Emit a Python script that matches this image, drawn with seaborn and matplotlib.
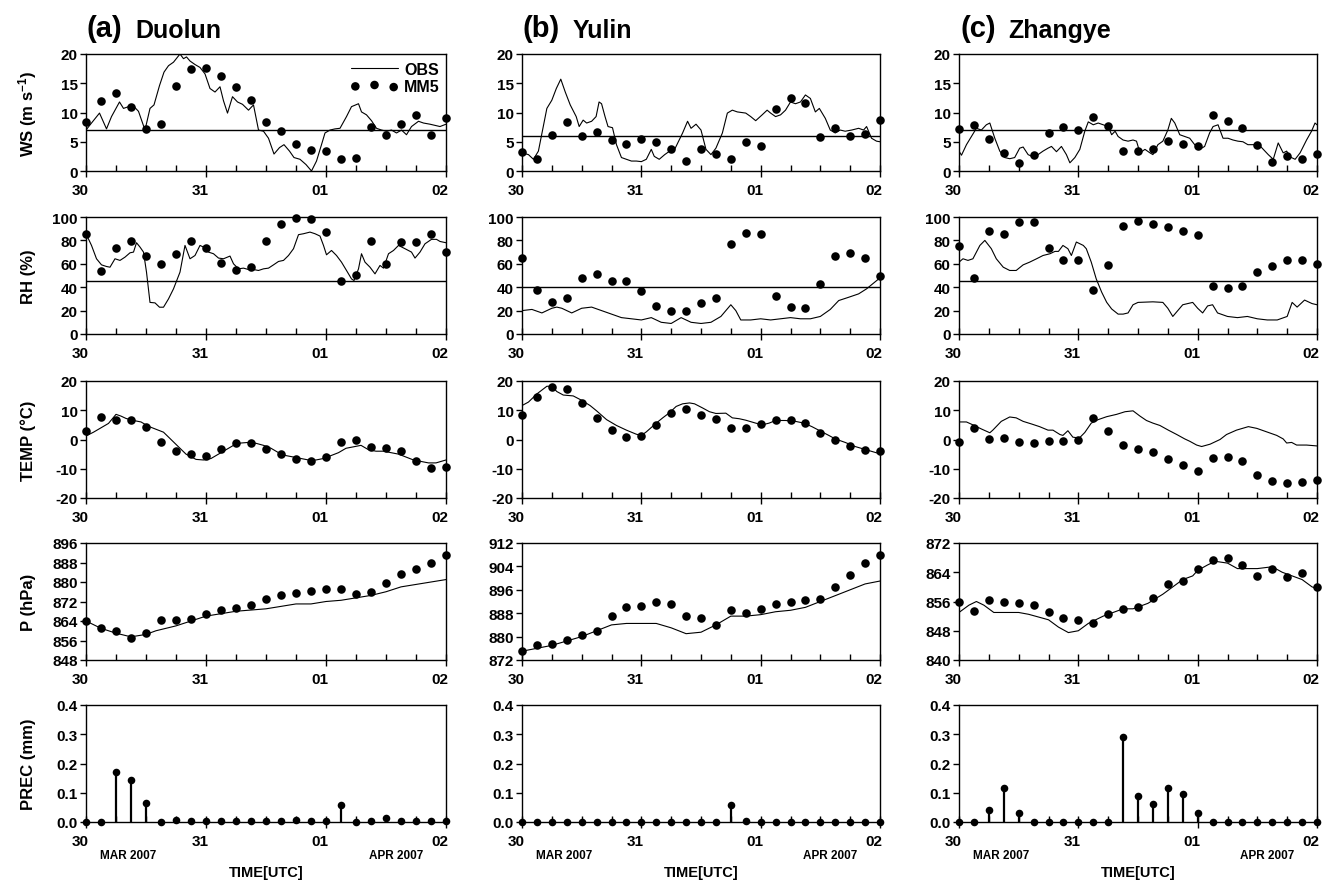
import numpy as np
import matplotlib
matplotlib.use("Agg")
import matplotlib.pyplot as plt
import matplotlib.transforms as mtransforms
from matplotlib.ticker import MultipleLocator, FormatStrFormatter
import seaborn as sns

# ---------------------------------------------------------------- data
# MM5 output every 3 h from 30 Mar 00 UTC to 02 Apr 00 UTC (hours since start)
mm5_hours = list(range(0, 73, 3))

stations = ["Duolun", "Yulin", "Zhangye"]
panel_tags = ["(a)", "(b)", "(c)"]

# wind speed (m/s)
duolun_ws_mm5 = [8.4, 12.0, 13.3, 11.0, 7.2, 8.0, 14.5, 17.5, 17.6, 16.3, 14.4, 12.1, 8.4,
                 6.9, 4.7, 3.6, 3.4, 2.1, 2.2, 7.6, 6.2, 8.0, 9.5, 6.2, 9.1]
yulin_ws_mm5 = [3.2, 2.0, 6.1, 8.4, 6.0, 6.7, 5.3, 4.7, 5.4, 4.9, 3.8, 1.7, 3.7,
                2.9, 2.1, 5.0, 4.3, 10.6, 12.5, 11.7, 5.8, 7.3, 6.0, 6.4, 8.7]
zhangye_ws_mm5 = [7.2, 7.8, 5.5, 3.1, 1.3, 2.8, 6.5, 7.5, 7.0, 9.2, 7.7, 3.5, 3.4,
                  3.8, 5.1, 4.6, 4.3, 9.6, 8.6, 7.3, 4.4, 1.6, 2.5, 2.0, 2.9]

duolun_ws_obs = [(0, 7.0), (1.1, 8.2), (2.7, 9.9), (4.1, 7.2), (5.1, 9.3), (6.7, 11.8), (7.5, 10.7),
                 (8.5, 11.0), (9.5, 11.1), (10.5, 10.2), (11.8, 7.0), (12.8, 10.7), (13.6, 11.3),
                 (14.7, 14.6), (15.6, 16.9), (16.5, 18.0), (17.5, 18.6), (18.8, 20.0), (19.5, 19.2),
                 (20.1, 19.5), (20.8, 18.8), (21.8, 18.2), (22.8, 17.7), (23.8, 16.6), (24.8, 14.1),
                 (25.8, 13.5), (26.8, 14.4), (27.5, 12.0), (28.3, 9.9), (29.3, 12.7), (30.3, 11.8),
                 (31.3, 11.4), (32.5, 10.4), (33.5, 11.3), (34.5, 7.0), (35.5, 6.8), (36.5, 5.6),
                 (37.6, 2.9), (38.7, 4.0), (39.6, 4.5), (40.7, 3.4), (41.6, 2.3), (42.8, 2.0),
                 (44.0, 1.1), (45.1, 0.0), (46.1, 1.7), (47.1, 4.5), (47.8, 6.5), (48.8, 7.0),
                 (49.8, 7.2), (50.8, 7.3), (52.1, 9.3), (53.1, 11.0), (54.5, 11.5), (55.1, 10.1),
                 (56.1, 9.6), (57.1, 8.6), (58.1, 7.3), (59.1, 7.0), (60.1, 6.8), (61.1, 7.0),
                 (62.1, 6.5), (63.1, 7.0), (64.1, 6.2), (65.1, 7.6), (66.5, 8.5), (67.5, 8.2),
                 (68.8, 8.0), (70.8, 7.6), (72, 8.0)]
yulin_ws_obs = [(0, 3.1), (1.3, 2.8), (2.3, 2.0), (3.3, 3.4), (5, 10.7), (6, 12.1), (6.9, 14.1),
                (7.8, 15.7), (8.7, 13.5), (9.7, 11.3), (10.9, 9.3), (11.5, 7.6), (12.3, 8.7),
                (13, 8.2), (14, 8.5), (14.9, 9.3), (15.5, 11.8), (16, 11.5), (16.7, 9.3), (17.3, 7.6),
                (18.2, 7.4), (19, 4.5), (20, 2.3), (21, 2.0), (22, 1.7), (23, 1.7), (24, 1.6),
                (25, 2.0), (26, 3.7), (26.6, 2.5), (27.6, 2.0), (28.7, 2.8), (29.7, 3.4), (30.7, 3.7),
                (32.3, 6.5), (33.3, 8.5), (34, 7.3), (35, 8.0), (36, 7.0), (37, 3.7), (38, 2.8),
                (39, 3.9), (40.3, 6.5), (41.3, 9.9), (42.3, 10.4), (43.3, 10.1), (45, 9.9), (46, 9.3),
                (47, 8.6), (48.3, 9.6), (49.3, 10.4), (50, 9.9), (51, 9.3), (52, 9.6), (53, 10.4),
                (54, 11.8), (55, 11.5), (56, 11.8), (57, 13.0), (58, 12.4), (59, 10.1), (59.8, 10.7),
                (61, 9.0), (62, 7.0), (63, 6.5), (64, 7.0), (65, 6.8), (66.3, 7.0), (67.7, 7.3),
                (68.7, 7.0), (69.3, 7.6), (70.3, 5.6), (71.3, 5.1), (72, 5.0)]
zhangye_ws_obs = [(0, 3.4), (0.5, 2.7), (1.5, 4.5), (2.5, 5.9), (3.5, 7.3), (4.5, 7.0), (5.5, 7.9),
                  (6.2, 8.2), (7.2, 5.6), (8.2, 3.4), (9.2, 2.3), (10.2, 2.1), (11.2, 2.3), (12.2, 3.9),
                  (12.9, 4.1), (13.9, 2.8), (14.9, 2.4), (15.9, 2.8), (16.9, 3.4), (17.9, 3.9),
                  (18.6, 4.2), (19.6, 3.3), (20.6, 4.2), (21.6, 2.8), (22.3, 1.4), (23.3, 2.3),
                  (24.3, 3.7), (25.3, 6.8), (26, 8.4), (27, 7.9), (28, 8.2), (29, 7.9), (30, 7.6),
                  (30.7, 6.2), (31.4, 6.8), (32, 5.9), (33, 5.3), (34, 5.1), (35, 5.3), (35.7, 5.1),
                  (36.4, 3.1), (37.4, 3.7), (38.4, 3.1), (39, 2.8), (40, 4.5), (41, 5.1), (42, 7.0),
                  (42.7, 9.0), (43.4, 8.2), (44.4, 6.2), (45.4, 5.9), (46.4, 5.6), (47.4, 4.5),
                  (48.4, 3.7), (49.4, 4.2), (50.4, 6.5), (51.1, 7.6), (52.1, 7.9), (53.1, 5.6),
                  (54.1, 5.6), (55.1, 5.3), (56.1, 5.1), (57.1, 5.0), (58.1, 4.5), (59.2, 4.5),
                  (60.2, 4.6), (61.2, 3.7), (62.2, 2.8), (63.2, 2.0), (64.2, 4.8), (65.2, 3.1),
                  (65.9, 3.4), (66.6, 2.4), (67.6, 2.0), (68.6, 3.1), (69.9, 5.3), (70.9, 6.8),
                  (71.6, 8.2), (72, 7.9)]

# relative humidity (%)
duolun_rh_mm5 = [85.7, 53.7, 73.4, 79.4, 66.3, 60.0, 68.6, 79.4, 73.4, 61.1, 54.3, 56.9, 79.4,
                 93.7, 99.1, 98.6, 87.1, 45.4, 50.6, 79.1, 60.0, 78.6, 78.6, 85.1, 70.5]
yulin_rh_mm5 = [65.1, 38.0, 27.1, 30.6, 47.7, 51.4, 45.4, 45.1, 36.6, 24.3, 20.0, 20.0, 26.3,
                30.6, 77.1, 86.3, 85.7, 32.3, 22.9, 22.0, 42.6, 66.9, 68.9, 64.9, 49.7]
zhangye_rh_mm5 = [75.1, 48.0, 87.7, 85.7, 95.7, 95.7, 73.4, 63.4, 63.4, 38.0, 59.1, 92.3, 96.3,
                  94.3, 91.4, 88.3, 84.3, 41.4, 39.1, 41.4, 52.9, 58.0, 63.4, 63.4, 60.0]

duolun_rh_obs = [(0, 85.7), (1.1, 75.7), (2.1, 64.3), (3.1, 59.1), (4.1, 57.7), (4.8, 57.1),
                 (5.8, 64.3), (6.8, 62.9), (7.8, 65.7), (8.8, 69.4), (9.5, 70), (10.1, 78),
                 (10.8, 74.3), (11.5, 70), (12.1, 52.9), (12.8, 27), (13.8, 26.6), (14.7, 22.9),
                 (15.5, 22.9), (16.5, 30), (17.5, 38.6), (18.8, 52.9), (19.8, 75.7), (20.8, 64.3),
                 (21.8, 67.1), (22.8, 75.7), (23.5, 74.3), (24.5, 70), (25.5, 68.6), (26.5, 64.9),
                 (27.5, 64.3), (28.8, 66.6), (29.5, 60), (30.5, 55.7), (31.5, 56.3), (32.5, 55.1),
                 (33.5, 55.1), (34.5, 54.3), (35.5, 55.7), (36.5, 56.3), (37.5, 59.1), (38.5, 62),
                 (39.5, 62.9), (40.5, 67.1), (41.5, 72.9), (42.5, 84.9), (43.5, 85.7), (44.8, 87.1),
                 (45.8, 85.7), (46.8, 83.7), (47.5, 75.7), (48.1, 67.7), (49.1, 71.4), (50.1, 67.1),
                 (51.1, 61.4), (52.1, 54.3), (53.1, 47.1), (53.6, 45.7), (54.5, 55.7), (55.1, 68.6),
                 (55.8, 61.4), (56.8, 57.1), (57.8, 51.4), (58.8, 58.6), (59.5, 56.3), (60.5, 68.6),
                 (61.5, 71.4), (62.5, 75.7), (63.8, 72.9), (65.1, 70), (65.8, 64.9), (66.8, 70),
                 (67.8, 77.1), (69.1, 80.9), (70.1, 80.9), (70.8, 79.1), (72, 78)]
yulin_rh_obs = [(0, 20), (2, 21), (4, 18), (6, 22), (7, 23), (8, 22), (10, 18), (12, 22), (14, 23),
                (16, 20), (18, 17), (20, 14), (22, 13), (24, 12), (26, 14), (28, 10), (30, 9),
                (32, 14), (34, 10), (36, 9), (38, 10), (40, 15), (42, 25), (43, 20), (44, 12),
                (46, 12), (48, 13), (50, 12), (52, 13), (54, 14), (56, 13), (58, 13), (60, 15),
                (62, 21), (63.7, 28.6), (65.7, 31.4), (67.7, 34.3), (69.3, 38.6), (72, 48)]
zhangye_rh_obs = [(0, 61.4), (0.8, 64.3), (1.8, 62.9), (2.8, 64.3), (4.2, 75.7), (5.2, 80),
                  (6.5, 72.9), (7.5, 64.3), (8.9, 57.1), (10.2, 54.3), (11.5, 54.3), (12.9, 59.1),
                  (14.2, 61.4), (15.6, 64.3), (16.9, 67.1), (18.3, 68.6), (19.3, 70.6), (20.0, 70.6),
                  (20.9, 75.7), (21.9, 72.9), (22.6, 67.1), (23.6, 78.6), (25, 75.7), (25.6, 72.9),
                  (26.6, 61.4), (27.6, 47.1), (28.7, 35.7), (29.7, 27.1), (30.7, 21.4), (32, 17),
                  (33, 17), (34, 18), (35, 25), (36, 27), (39, 27.5), (41, 27), (42, 22), (43, 15),
                  (44, 20), (45, 25), (47, 27), (48, 22), (49, 18), (50, 24), (51, 25), (52, 18),
                  (54, 15), (56, 14), (58, 15), (60, 13), (62, 12), (64, 12), (66, 15), (67, 27),
                  (68, 23), (69.5, 29), (71, 26), (72, 25)]

# temperature (deg C)
duolun_t_mm5 = [2.9, 7.7, 6.7, 6.7, 4.2, -0.7, -4.0, -5.0, -5.5, -3.4, -1.1, -1.2, -3.4,
                -5.0, -6.7, -7.5, -6.0, -1.0, 0.0, -2.4, -2.8, -4.0, -7.3, -9.7, -9.3]
yulin_t_mm5 = [8.4, 14.4, 18.0, 17.4, 12.6, 7.4, 3.2, 0.8, 1.2, 5.0, 9.2, 10.4, 8.4,
               7.1, 3.8, 4.1, 5.3, 6.8, 6.5, 5.6, 2.3, -0.1, -2.2, -3.7, -4.0]
zhangye_t_mm5 = [-1.0, 4.1, 0.2, 0.5, -1.0, -1.2, -0.6, -0.4, 0.0, 7.2, 3.0, -1.9, -3.1,
                 -4.3, -6.7, -8.8, -10.7, -6.4, -6.1, -7.3, -12.2, -14.2, -14.8, -14.6, -14.0]

duolun_t_obs = [(0, 1.2), (1.5, 2.5), (3, 4), (4.5, 5.5), (6, 8.6), (7, 8), (8, 7.2), (9.5, 6.5),
                (11, 6), (12.5, 4.5), (14, 3.5), (15.5, 2.5), (17, 0), (18.5, -2.5), (20, -5),
                (22, -6.8), (23.5, -7), (25, -6.5), (26.5, -5), (28, -3.5), (29.5, -2), (31, -1.2),
                (32.5, -1), (34, -1.3), (35.5, -2), (37, -3), (38.5, -4.5), (40, -5.5), (41.5, -6),
                (43, -6.5), (44.5, -7), (46, -7), (47.5, -6.5), (49, -5.5), (50.5, -4.5), (52, -3),
                (53.5, -2.5), (55, -2), (56.5, -3.5), (58, -4), (59.5, -4), (61, -4.5), (62.5, -5),
                (64, -6), (65.5, -7), (67, -7.5), (68.5, -8), (70, -8), (71, -7.5), (72, -7)]
yulin_t_obs = [(0, 11.6), (1.3, 12.8), (3, 15.6), (5, 18.2), (6, 18.2), (7, 16.4), (8.3, 15.2),
               (10.3, 14.9), (12, 13.4), (13.7, 11.6), (15, 9.8), (17, 6.8), (19, 4.8), (21, 3.2),
               (23, 1.8), (24, 1.4), (25, 2.6), (27, 5.6), (28.3, 7.4), (29.7, 9.2), (31, 11.3),
               (32.3, 12.2), (33.7, 12.5), (34.7, 12.2), (36.3, 10.8), (37.7, 9.5), (39, 8.9),
               (41, 9.0), (42.3, 7.4), (43.7, 7.1), (45, 6.6), (47, 5.6), (48.3, 5.0), (49.7, 5.6),
               (51, 6.5), (53, 6.5), (55, 6.2), (56.7, 5.6), (58.3, 4.4), (60, 2.9), (61.7, 1.4),
               (63, 0.2), (65, -1.0), (67, -2.4), (69, -3.4), (72, -4.9)]
zhangye_t_obs = [(0, 6.0), (1.5, 6.0), (2.8, 5.0), (4.5, 3.6), (6.2, 2.3), (6.8, 3.2), (8.5, 6.2),
                 (10.2, 7.7), (11.5, 7.4), (12.9, 6.2), (14.6, 5.3), (16.2, 4.4), (17.9, 3.2),
                 (18.9, 3.2), (20.3, 1.7), (20.9, 1.4), (21.9, 3.0), (22.9, 0.8), (24.2, 0.5),
                 (25.3, 2.4), (26.6, 5.6), (28, 6.8), (29.7, 7.8), (31.7, 8.6), (33.4, 9.5),
                 (35, 9.8), (36.4, 8.0), (37.7, 6.5), (39, 5.6), (40.4, 4.8), (42.1, 3.2),
                 (43.8, 1.7), (45.4, 0.2), (46.4, -0.6), (47.8, -1.9), (48.8, -2.4), (50.5, -1.6),
                 (52.5, 0), (53.8, 1.7), (55.8, 3.2), (58.2, 4.4), (59.9, 3.8), (61.9, 2.6),
                 (63.9, 1.4), (65.2, 0.2), (65.9, -1.2), (66.9, -1.0), (67.9, -1.9), (69.9, -1.9),
                 (72, -2.2)]

# surface pressure (hPa)
duolun_p_mm5 = [864, 861, 860, 857, 859, 864.5, 864.5, 865, 867, 868.5, 869.5, 870.5, 873,
                874.5, 875.5, 876.5, 877, 877, 875, 876, 879.5, 883.3, 885.4, 888, 891]
yulin_p_mm5 = [875, 877, 877.5, 879, 880.5, 882, 887, 890, 890.5, 892, 891, 887, 886.5,
               884, 889, 888, 889.5, 891, 892, 892.5, 893, 897, 901, 905, 908]
zhangye_p_mm5 = [856, 853.5, 856.5, 856, 855.5, 855, 853, 851.5, 851, 850, 852.5, 854, 854.5,
                 857, 860.8, 861.5, 864.8, 867.3, 867.9, 866.1, 863, 864.9, 862.7, 863.7, 860]

duolun_p_obs = [(0, 864), (3, 861), (6, 859), (9, 857.5), (12, 858.5), (14, 860), (16, 861),
                (18, 862), (21, 864), (24, 866), (27, 867), (30, 868), (33, 868.5), (36, 869),
                (39, 870), (42, 871), (45, 871), (48, 872), (51, 872.5), (54, 873.5), (57, 874.5),
                (60, 876), (63, 878), (66, 879), (69, 880), (72, 881)]
yulin_p_obs = [(0, 875), (3, 876), (6, 877), (9, 878.5), (12, 880), (15, 882), (18, 884),
               (21, 884.5), (24, 884.5), (27, 884.5), (30, 883), (33, 881), (36, 881.5), (39, 884),
               (42, 887), (45, 887), (48, 887.5), (51, 888.5), (54, 889), (57, 890), (60, 892),
               (63, 894), (66, 896), (69, 898), (72, 899)]
zhangye_p_obs = [(0, 853), (2, 855), (3.5, 856), (5, 855), (7, 853), (10, 853), (12, 853),
                 (14, 852.5), (18, 851), (20, 849), (22, 847.5), (24, 848), (26, 850), (29, 852),
                 (31, 853), (33, 854), (35, 854), (38, 855.5), (41, 858), (43, 860), (45, 862),
                 (47, 863), (48, 864.5), (50, 866), (51.5, 867), (54, 866.5), (56, 865), (58, 865),
                 (60, 865), (63, 865.5), (65, 864), (67, 863), (69, 862), (71, 860), (72, 859.5)]

# 3-hourly precipitation (mm)
duolun_prec = [0, 0, 0.17, 0.145, 0.065, 0, 0.007, 0.005, 0.002, 0.002, 0.002, 0.002, 0.003,
               0.005, 0.007, 0.005, 0.002, 0.058, 0, 0.002, 0.015, 0.002, 0.003, 0.005, 0.004]
yulin_prec = [0, 0, 0, 0, 0, 0, 0, 0, 0, 0, 0, 0, 0, 0, 0.058, 0.003, 0, 0, 0, 0, 0, 0, 0, 0, 0]
zhangye_prec = [0, 0, 0.04, 0.115, 0.03, 0, 0, 0, 0, 0, 0, 0.29, 0.09, 0.06, 0.115, 0.095,
                0.03, 0, 0, 0, 0, 0, 0, 0, 0]

# reference (threshold) lines
ws_ref = [7, 6, 7]
rh_ref = [45, 40, 45]

day_ticks = [0, 24, 48, 72]
day_labels = ["30", "31", "01", "02"]

# ---------------------------------------------------------------- style
sns.set_theme(style="ticks")
plt.rcParams["font.family"] = ["Liberation Sans", "DejaVu Sans"]
plt.rcParams["font.weight"] = "bold"
plt.rcParams["mathtext.fontset"] = "custom"
plt.rcParams["mathtext.rm"] = "Liberation Sans:bold"
plt.rcParams["mathtext.default"] = "rm"
for key in ["text.color", "axes.labelcolor", "axes.edgecolor", "xtick.color", "ytick.color"]:
    plt.rcParams[key] = "black"

W, H = 1323, 887
fig = plt.figure(figsize=(W / 100, H / 100), dpi=100)

col_left = [86, 522, 959]
col_width = [360, 358, 358]
row_top = [55, 218, 382, 544, 706]
row_h = 117

ws_mm5 = [duolun_ws_mm5, yulin_ws_mm5, zhangye_ws_mm5]
ws_obs = [duolun_ws_obs, yulin_ws_obs, zhangye_ws_obs]
rh_mm5 = [duolun_rh_mm5, yulin_rh_mm5, zhangye_rh_mm5]
rh_obs = [duolun_rh_obs, yulin_rh_obs, zhangye_rh_obs]
t_mm5 = [duolun_t_mm5, yulin_t_mm5, zhangye_t_mm5]
t_obs = [duolun_t_obs, yulin_t_obs, zhangye_t_obs]
p_mm5 = [duolun_p_mm5, yulin_p_mm5, zhangye_p_mm5]
p_obs = [duolun_p_obs, yulin_p_obs, zhangye_p_obs]
prec = [duolun_prec, yulin_prec, zhangye_prec]
p_limits = [(848, 896), (872, 912), (840, 872)]

row_labels = ["WS (m s$^{-1}$)", "RH (%)", "TEMP (\u00b0C)", "P (hPa)", "PREC (mm)"]

label_shift = mtransforms.ScaledTranslation(-6 / 100, 0, fig.dpi_scale_trans)
TICK_FS = 11


def make_axes(col, row):
    l, w, t = col_left[col], col_width[col], row_top[row]
    ax = fig.add_axes([l / W, 1 - (t + row_h) / H, w / W, row_h / H])
    ax.set_xlim(0, 72)
    ax.set_xticks(day_ticks, labels=day_labels, fontweight="bold", fontsize=TICK_FS)
    ax.xaxis.set_minor_locator(MultipleLocator(6))
    ax.tick_params(axis="x", which="major", direction="inout", length=9, width=1, pad=4)
    ax.tick_params(axis="x", which="minor", direction="in", length=4, width=1)
    ax.tick_params(axis="y", which="major", direction="out", length=4, width=1, pad=2)
    for lab in ax.get_xticklabels():
        lab.set_transform(lab.get_transform() + label_shift)
    for s in ax.spines.values():
        s.set_visible(True)
        s.set_linewidth(1.0)
        s.set_color("black")
    return ax


def set_yaxis(ax, lo, hi, ticks, fmt=None):
    ax.set_ylim(lo, hi)
    if fmt:
        labels = [fmt % v for v in ticks]
    else:
        labels = [str(v) for v in ticks]
    ax.set_yticks(ticks, labels=labels, fontweight="bold", fontsize=TICK_FS)


def draw_series(ax, obs, mm5, legend=False):
    ot = [p[0] for p in obs]
    ov = [p[1] for p in obs]
    sns.lineplot(x=ot, y=ov, ax=ax, color="black", linewidth=0.8, estimator=None,
                 sort=False, label="OBS" if legend else None, legend=False)
    sns.scatterplot(x=mm5_hours, y=mm5, ax=ax, color="black", s=38, linewidth=0,
                    label="MM5" if legend else None, legend=False, clip_on=False, zorder=5)


for c in range(3):
    # wind speed
    ax = make_axes(c, 0)
    ax.axhline(ws_ref[c], color="black", lw=1.0)
    draw_series(ax, ws_obs[c], ws_mm5[c], legend=(c == 0))
    set_yaxis(ax, 0, 20, [0, 5, 10, 15, 20])
    if c == 0:
        ax.legend(loc="upper right", bbox_to_anchor=(1.005, 1.0), frameon=False,
                  scatterpoints=3, handlelength=3.0, handletextpad=0.35,
                  labelspacing=0.1, borderaxespad=0.1,
                  prop={"weight": "bold", "size": 11.5})
    # relative humidity
    ax = make_axes(c, 1)
    ax.axhline(rh_ref[c], color="black", lw=1.0)
    draw_series(ax, rh_obs[c], rh_mm5[c])
    set_yaxis(ax, 0, 100, list(range(0, 101, 20)))
    # temperature
    ax = make_axes(c, 2)
    draw_series(ax, t_obs[c], t_mm5[c])
    set_yaxis(ax, -20, 20, list(range(-20, 21, 10)))
    # pressure
    ax = make_axes(c, 3)
    draw_series(ax, p_obs[c], p_mm5[c])
    lo, hi = p_limits[c]
    set_yaxis(ax, lo, hi, list(range(lo, hi + 1, 8)))
    # precipitation
    ax = make_axes(c, 4)
    ax.vlines(mm5_hours, 0, prec[c], color="black", lw=1.6)
    sns.scatterplot(x=mm5_hours, y=prec[c], ax=ax, color="black", s=30, linewidth=0,
                    legend=False, clip_on=False, zorder=5)
    set_yaxis(ax, 0, 0.4, [0.0, 0.1, 0.2, 0.3, 0.4], fmt="%.1f")
    ax.text(8.5 / 72, -0.285, "MAR 2007", transform=ax.transAxes, ha="center", va="center",
            fontsize=8.5, fontweight="bold")
    ax.text(62 / 72, -0.285, "APR 2007", transform=ax.transAxes, ha="center", va="center",
            fontsize=8.5, fontweight="bold")
    ax.text(0.5, -0.43, "TIME[UTC]", transform=ax.transAxes, ha="center", va="center",
            fontsize=10.5, fontweight="bold")

    # station titles: large panel tag followed by the station name
    tag = fig.text((col_left[c] + 1) / W, 1 - 37 / H, panel_tags[c], fontsize=21,
                   fontweight="bold", ha="left", va="baseline")
    fig.axes[0].annotate(stations[c], xy=(1, 0), xycoords=tag, xytext=(9, 0),
                         textcoords="offset points", fontsize=18, fontweight="bold",
                         ha="left", va="bottom", annotation_clip=False)

# row labels on the left
for r, lab in enumerate(row_labels):
    yc = 1 - (row_top[r] + row_h / 2) / H
    fig.text(28 / W, yc, lab, rotation=90, ha="center", va="center", fontsize=12,
             fontweight="bold")

fig.savefig("out.png", dpi=100)
